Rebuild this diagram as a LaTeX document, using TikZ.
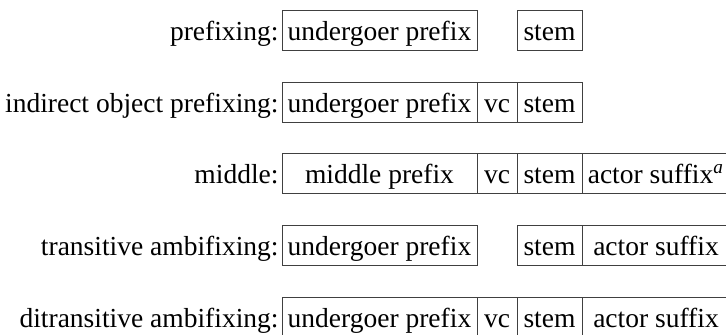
\documentclass[tikz,border=0pt]{standalone}
\usepackage{fontspec}
\setmainfont{Liberation Serif}
\usepackage{tikz}

\begin{document}
\begin{tikzpicture}[x=0.4pt, y=-0.4pt, font=\fontsize{11}{13}\selectfont,
        slot/.style={text=black, text height=8pt, text depth=0pt, inner sep=0pt},
        rowlabel/.style={anchor=east, text height=8pt, text depth=0pt, inner sep=0pt},
        edge/.style={black!75, line width=0.4pt}]
    \useasboundingbox (0,0) rectangle (726,334);
    % prefixing
    \node[rowlabel] (lab1) at (279,30) {prefixing:};
    \draw[edge] (282,10) rectangle (477,50) node[pos=.5, slot] (und1) {undergoer prefix};
    \draw[edge] (517,10) rectangle (582,50) node[pos=.5, slot] (stem1) {stem};
    % indirect object prefixing
    \node[rowlabel] (lab2) at (279,102) {indirect object prefixing:};
    \draw[edge] (282,82) rectangle (477,122) node[pos=.5, slot] (und2) {undergoer prefix};
    \draw[edge] (477,82) rectangle (517,122) node[pos=.5, slot] (vc2) {vc};
    \draw[edge] (517,82) rectangle (582,122) node[pos=.5, slot] (stem2) {stem};
    % middle
    \node[rowlabel] (lab3) at (279,173) {middle:};
    \draw[edge] (282,153) rectangle (477,193) node[pos=.5, slot] (mid3) {middle prefix};
    \draw[edge] (477,153) rectangle (517,193) node[pos=.5, slot] (vc3) {vc};
    \draw[edge] (517,153) rectangle (582,193) node[pos=.5, slot] (stem3) {stem};
    \draw[edge] (582,153) rectangle (730,193) node[pos=.5, slot] (act3) {actor suffix\textsuperscript{\textit{a}}};
    % transitive ambifixing
    \node[rowlabel] (lab4) at (279,245) {transitive ambifixing:};
    \draw[edge] (282,225) rectangle (477,265) node[pos=.5, slot] (und4) {undergoer prefix};
    \draw[edge] (517,225) rectangle (582,265) node[pos=.5, slot] (stem4) {stem};
    \draw[edge] (582,225) rectangle (730,265) node[pos=.5, slot] (act4) {actor suffix};
    % ditransitive ambifixing
    \node[rowlabel] (lab5) at (279,317) {ditransitive ambifixing:};
    \draw[edge] (282,297) rectangle (477,337) node[pos=.5, slot] (und5) {undergoer prefix};
    \draw[edge] (477,297) rectangle (517,337) node[pos=.5, slot] (vc5) {vc};
    \draw[edge] (517,297) rectangle (582,337) node[pos=.5, slot] (stem5) {stem};
    \draw[edge] (582,297) rectangle (730,337) node[pos=.5, slot] (act5) {actor suffix};
\end{tikzpicture}
\end{document}
